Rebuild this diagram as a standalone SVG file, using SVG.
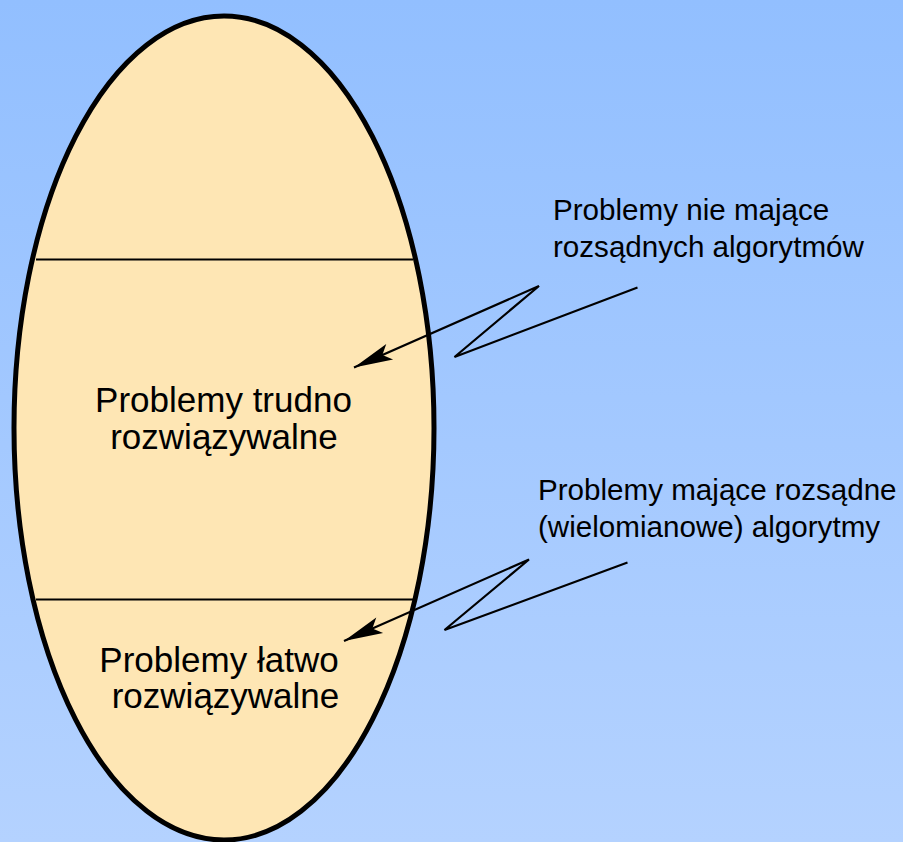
<svg xmlns="http://www.w3.org/2000/svg" width="903" height="842" viewBox="0 0 903 842">
  <defs>
    <linearGradient id="bg" x1="0" y1="0" x2="0" y2="1">
      <stop offset="0" stop-color="#92bfff"/>
      <stop offset="1" stop-color="#b4d2ff"/>
    </linearGradient>
    <marker id="head" markerUnits="userSpaceOnUse" markerWidth="44" markerHeight="20" viewBox="-40 -10 44 20" refX="0" refY="0" orient="auto" overflow="visible">
      <path d="M0,0 L-39,-8.5 L-31,0 L-39,8.5 Z" fill="#000"/>
    </marker>
    <style>
      text { font-family: "Liberation Sans", Arial, sans-serif; fill: #000; }
      .big { font-size: 35px; text-anchor: middle; }
      .note { font-size: 29.6px; }
      .divider { stroke: #000; stroke-width: 2; }
      .conn { fill: none; stroke: #000; stroke-width: 2.2; stroke-linejoin: miter; marker-end: url(#head); }
    </style>
  </defs>

  <rect width="903" height="842" fill="url(#bg)"/>

  <g id="set">
    <ellipse cx="224" cy="428" rx="210" ry="412" fill="#fee6b4" stroke="#000" stroke-width="5"/>
    <line class="divider" x1="36" y1="259.5" x2="413" y2="259.5"/>
    <line class="divider" x1="36" y1="599.5" x2="413" y2="599.5"/>
  </g>

  <g id="hard">
    <text class="big" x="223.5" y="411.5">Problemy trudno</text>
    <text class="big" x="224" y="448.5">rozwiązywalne</text>
  </g>

  <g id="easy">
    <text class="big" x="219" y="671.5">Problemy łatwo</text>
    <text class="big" x="225.5" y="708">rozwiązywalne</text>
  </g>

  <g id="note-hard">
    <text class="note" x="553" y="220">Problemy nie mające</text>
    <text class="note" x="553" y="257">rozsądnych algorytmów</text>
  </g>

  <g id="note-easy">
    <text class="note" x="538" y="500">Problemy mające rozsądne</text>
    <text class="note" x="538" y="537">(wielomianowe) algorytmy</text>
  </g>

  <g id="connectors">
    <polyline class="conn" points="637.5,287.5 454.5,357 539,286 354,367.5"/>
    <polyline class="conn" points="627.5,562.5 444.5,630 529,559.5 344,641"/>
  </g>
</svg>
